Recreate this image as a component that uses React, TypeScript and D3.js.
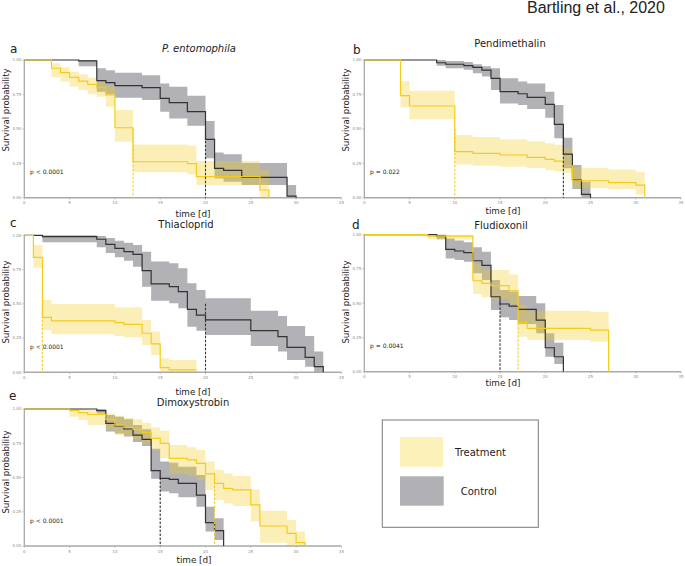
import React from "react";
import * as d3 from "d3";

// ---------- Data ----------
const xTicks = [0, 5, 10, 15, 20, 25, 30, 35];
const yTicks = [0, 0.25, 0.5, 0.75, 1];
const yTickLabels = ["0.00", "0.25", "0.50", "0.75", "1.00"];

const panelLetters = ["a", "b", "c", "d", "e"];
const panelTitles = ["P. entomophila", "Pendimethalin", "Thiacloprid", "Fludioxonil", "Dimoxystrobin"];
const pValues = ["p < 0.0001", "p = 0.022", "p < 0.0001", "p = 0.0041", "p < 0.0001"];
const medianTreatment = [12, 10, 2, 17, 21];
const medianControl = [20, 22, 20, 15, 15];

// a: P. entomophila
const aTrtT = [0, 3, 4, 5, 6, 7, 8, 9, 10, 12, 18, 19, 26, 27];
const aTrtS = [1, 0.94, 0.908, 0.874, 0.847, 0.823, 0.8, 0.746, 0.508, 0.261, 0.247, 0.153, 0.056, 0];
const aTrtU = [1, 0.976, 0.947, 0.915, 0.896, 0.872, 0.847, 0.818, 0.637, 0.387, 0.378, 0.266, 0.201, 0];
const aTrtL = [1, 0.874, 0.843, 0.806, 0.782, 0.751, 0.734, 0.661, 0.407, 0.184, 0.169, 0.092, 0, 0];
const aCtlT = [0, 6, 8, 9, 10, 13, 15, 16, 18, 20, 21, 22, 24, 29, 30];
const aCtlS = [1, 0.993, 0.85, 0.835, 0.814, 0.8, 0.722, 0.69, 0.625, 0.424, 0.213, 0.199, 0.148, 0.012, 0];
const aCtlU = [1, 1, 0.94, 0.925, 0.908, 0.89, 0.83, 0.806, 0.74, 0.557, 0.329, 0.315, 0.252, 0.092, 0];
const aCtlL = [1, 0.955, 0.77, 0.75, 0.726, 0.71, 0.625, 0.576, 0.523, 0.286, 0.14, 0.116, 0.092, 0, 0];

// b: Pendimethalin
const bTrtT = [0, 4, 5, 10, 12, 15, 18, 20, 21, 22, 23, 27, 30, 31];
const bTrtS = [1, 0.741, 0.666, 0.334, 0.322, 0.31, 0.293, 0.278, 0.266, 0.232, 0.123, 0.109, 0.092, 0];
const bTrtU = [1, 0.847, 0.777, 0.455, 0.44, 0.425, 0.41, 0.395, 0.385, 0.355, 0.218, 0.205, 0.189, 0];
const bTrtL = [1, 0.656, 0.569, 0.242, 0.232, 0.225, 0.215, 0.2, 0.19, 0.18, 0.068, 0.063, 0.024, 0];
const bCtlT = [0, 8, 9, 11, 12, 13, 14, 15, 17, 18, 20, 21, 22, 23, 24, 25];
const bCtlS = [1, 0.98, 0.969, 0.959, 0.947, 0.927, 0.867, 0.77, 0.755, 0.729, 0.678, 0.533, 0.317, 0.128, 0.024, 0];
const bCtlU = [1, 1, 0.993, 0.985, 0.97, 0.955, 0.94, 0.867, 0.843, 0.83, 0.77, 0.673, 0.436, 0.237, 0.116, 0];
const bCtlL = [1, 0.959, 0.94, 0.93, 0.903, 0.88, 0.782, 0.685, 0.673, 0.644, 0.581, 0.431, 0.213, 0.063, 0, 0];

// c: Thiacloprid
const cTrtT = [0, 1, 2, 3, 10, 11, 13, 14, 15, 16, 19];
const cTrtS = [1, 0.839, 0.401, 0.375, 0.363, 0.35, 0.285, 0.207, 0.034, 0.017, 0.017];
const cTrtU = [1, 0.93, 0.528, 0.499, 0.474, 0.474, 0.382, 0.297, 0.102, 0.09, 0.09];
const cTrtL = [1, 0.764, 0.309, 0.277, 0.265, 0.255, 0.2, 0.127, 0, 0, 0];
const cCtlT = [0, 2, 8, 9, 10, 11, 12, 13, 14, 16, 17, 18, 19, 20, 25, 28, 29, 31, 32, 33];
const cCtlS = [1, 0.99, 0.971, 0.934, 0.905, 0.881, 0.861, 0.742, 0.645, 0.625, 0.589, 0.46, 0.418, 0.382, 0.304, 0.26, 0.182, 0.109, 0.041, 0];
const cCtlU = [1, 1, 0.995, 0.98, 0.961, 0.946, 0.93, 0.88, 0.808, 0.796, 0.759, 0.65, 0.601, 0.54, 0.45, 0.411, 0.338, 0.265, 0.151, 0];
const cCtlL = [1, 0.949, 0.912, 0.87, 0.839, 0.815, 0.771, 0.625, 0.523, 0.504, 0.467, 0.333, 0.304, 0.273, 0.192, 0.151, 0.09, 0.041, 0, 0];

// d: Fludioxonil
const dTrtT = [0, 7, 12, 13, 14, 16, 17, 18, 25, 27];
const dTrtS = [1, 0.99, 0.664, 0.645, 0.628, 0.591, 0.358, 0.316, 0.304, 0];
const dTrtU = [1, 1, 0.79, 0.747, 0.742, 0.71, 0.487, 0.445, 0.438, 0];
const dTrtL = [1, 0.966, 0.567, 0.543, 0.53, 0.49, 0.255, 0.231, 0.219, 0];
const dCtlT = [0, 8, 9, 10, 11, 12, 13, 14, 15, 16, 17, 19, 20, 21, 22];
const dCtlS = [1, 0.99, 0.893, 0.881, 0.869, 0.81, 0.776, 0.547, 0.494, 0.479, 0.455, 0.377, 0.175, 0.109, 0];
const dCtlU = [1, 1, 0.973, 0.958, 0.945, 0.908, 0.876, 0.669, 0.596, 0.585, 0.552, 0.499, 0.28, 0.212, 0];
const dCtlL = [1, 0.966, 0.827, 0.815, 0.803, 0.718, 0.669, 0.45, 0.397, 0.378, 0.348, 0.28, 0.109, 0.056, 0];

// e: Dimoxystrobin
const eTrtT = [0, 5, 6, 7, 9, 10, 11, 12, 13, 14, 15, 16, 18, 19, 20, 21, 22, 23, 25, 26, 29, 30, 31];
const eTrtS = [1, 0.988, 0.973, 0.96, 0.925, 0.883, 0.866, 0.852, 0.83, 0.786, 0.749, 0.64, 0.628, 0.603, 0.526, 0.457, 0.421, 0.409, 0.3, 0.146, 0.092, 0.024, 0];
const eTrtU = [1, 1, 1, 0.99, 0.968, 0.95, 0.935, 0.925, 0.9, 0.866, 0.842, 0.737, 0.72, 0.7, 0.616, 0.555, 0.53, 0.511, 0.414, 0.258, 0.19, 0.105, 0];
const eTrtL = [1, 0.944, 0.92, 0.883, 0.847, 0.81, 0.8, 0.78, 0.75, 0.7, 0.64, 0.526, 0.511, 0.482, 0.409, 0.336, 0.311, 0.292, 0.178, 0.024, 0, 0, 0];
const eCtlT = [0, 8, 9, 10, 11, 12, 13, 14, 15, 16, 17, 19, 20, 21, 22];
const eCtlS = [1, 0.988, 0.895, 0.876, 0.854, 0.81, 0.779, 0.55, 0.494, 0.487, 0.457, 0.372, 0.17, 0.112, 0];
const eCtlU = [1, 1, 0.956, 0.944, 0.925, 0.883, 0.852, 0.71, 0.616, 0.608, 0.579, 0.518, 0.287, 0.202, 0];
const eCtlL = [1, 0.968, 0.835, 0.822, 0.8, 0.759, 0.73, 0.49, 0.397, 0.385, 0.355, 0.287, 0.105, 0.044, 0];

const legendLabels = ["Treatment", "Control"];

// ---------- Styling / layout ----------
const TRT_LINE = "#F4CC1C";
const TRT_FILL = "rgba(244,206,30,0.32)";
const CTL_LINE = "#333333";
const CTL_FILL = "rgba(70,70,82,0.42)";
const AXIS = "#a9a9a9";
const FONT = "'DejaVu Sans', Verdana, sans-serif";

type Series = { T: number[]; S: number[]; U: number[]; L: number[] };

const panels = [
  { trt: { T: aTrtT, S: aTrtS, U: aTrtU, L: aTrtL }, ctl: { T: aCtlT, S: aCtlS, U: aCtlU, L: aCtlL } },
  { trt: { T: bTrtT, S: bTrtS, U: bTrtU, L: bTrtL }, ctl: { T: bCtlT, S: bCtlS, U: bCtlU, L: bCtlL } },
  { trt: { T: cTrtT, S: cTrtS, U: cTrtU, L: cTrtL }, ctl: { T: cCtlT, S: cCtlS, U: cCtlU, L: cCtlL } },
  { trt: { T: dTrtT, S: dTrtS, U: dTrtU, L: dTrtL }, ctl: { T: dCtlT, S: dCtlS, U: dCtlU, L: dCtlL } },
  { trt: { T: eTrtT, S: eTrtS, U: eTrtU, L: eTrtL }, ctl: { T: eCtlT, S: eCtlS, U: eCtlU, L: eCtlL } },
];

// pixel frames for each panel: x of t=0, x of t=35, y of 1.0, y of 0.0
const frames = [
  { x0: 24.3, x1: 341.4, yTop: 60, yBot: 197.7, letter: [10, 53], title: [199, 52], xlab: [193, 216.5], ylabY: 110 },
  { x0: 364.3, x1: 681, yTop: 60, yBot: 197.7, letter: [353, 54], title: [510, 47], xlab: [503, 214], ylabY: 110 },
  { x0: 24.3, x1: 341.4, yTop: 235.3, yBot: 372.3, letter: [10, 227], title: [186, 228], xlab: [193, 394.5], ylabY: 302 },
  { x0: 364.3, x1: 681, yTop: 234.7, yBot: 371.7, letter: [352, 229], title: [501, 229], xlab: [503, 386], ylabY: 302 },
  { x0: 24.3, x1: 341.4, yTop: 409, yBot: 546, letter: [9, 400], title: [193, 406], xlab: [194, 563], ylabY: 472 },
];

function toPts(s: Series, key: "S" | "U" | "L") {
  return s.T.map((t, i) => [t, s[key][i]] as [number, number]);
}

function Panel({ idx }: { idx: number }) {
  const f = frames[idx];
  const p = panels[idx];
  const x = d3.scaleLinear().domain([0, 35]).range([f.x0, f.x1]);
  const y = d3.scaleLinear().domain([0, 1]).range([f.yBot, f.yTop]);

  const line = d3
    .line<[number, number]>()
    .x((d) => x(d[0]))
    .y((d) => y(d[1]))
    .curve(d3.curveStepAfter);

  const band = (s: Series) => {
    const idxs = s.T.map((_, i) => i);
    return d3
      .area<number>()
      .x((i) => x(s.T[i]))
      .y0((i) => y(s.L[i]))
      .y1((i) => y(s.U[i]))
      .curve(d3.curveStepAfter)(idxs) as string;
  };

  const ylabX = f.x0 - 15.5;

  return (
    <g>
      {/* panel letter and title */}
      <text x={f.letter[0]} y={f.letter[1]} fontSize={12} fontFamily={FONT} fill="#222">
        {panelLetters[idx]}
      </text>
      <text
        x={f.title[0]}
        y={f.title[1]}
        fontSize={10}
        fontFamily={FONT}
        fill="#222"
        textAnchor="middle"
        fontStyle={idx === 0 ? "italic" : "normal"}
      >
        {panelTitles[idx]}
      </text>

      {/* bands */}
      <path d={band(p.ctl)} fill={CTL_FILL} stroke="none" />
      <path d={band(p.trt)} fill={TRT_FILL} stroke="none" />

      {/* axes */}
      <line x1={f.x0} x2={f.x0} y1={f.yTop} y2={f.yBot} stroke={AXIS} strokeWidth={1.3} />
      <line x1={f.x0} x2={f.x1} y1={f.yBot} y2={f.yBot} stroke={AXIS} strokeWidth={1.6} />
      {yTicks.map((v, i) => (
        <g key={"y" + i}>
          <line x1={f.x0 - 2} x2={f.x0} y1={y(v)} y2={y(v)} stroke={AXIS} strokeWidth={0.6} />
          <text
            x={f.x0 - 3}
            y={y(v) + 1.4}
            fontSize={4}
            fontFamily={FONT}
            fill="#8a8a8a"
            textAnchor="end"
          >
            {yTickLabels[i]}
          </text>
        </g>
      ))}
      {xTicks.map((v, i) => (
        <g key={"x" + i}>
          <line x1={x(v)} x2={x(v)} y1={f.yBot} y2={f.yBot + 2} stroke={AXIS} strokeWidth={0.6} />
          <text
            x={x(v)}
            y={f.yBot + 6.5}
            fontSize={4}
            fontFamily={FONT}
            fill="#8a8a8a"
            textAnchor="middle"
          >
            {v}
          </text>
        </g>
      ))}

      {/* curves */}
      <path d={line(toPts(p.ctl, "S")) as string} fill="none" stroke={CTL_LINE} strokeWidth={1.2} />
      <path d={line(toPts(p.trt, "S")) as string} fill="none" stroke={TRT_LINE} strokeWidth={1.2} />

      {/* median lines */}
      <line
        x1={x(medianControl[idx])}
        x2={x(medianControl[idx])}
        y1={y(0.5)}
        y2={y(0)}
        stroke={CTL_LINE}
        strokeWidth={1.1}
        strokeDasharray="2.5,1.5"
      />
      <line
        x1={x(medianTreatment[idx])}
        x2={x(medianTreatment[idx])}
        y1={y(0.5)}
        y2={y(0)}
        stroke={TRT_LINE}
        strokeWidth={1.1}
        strokeDasharray="2.5,1.5"
      />

      {/* p value */}
      <text x={f.x0 + 5.7} y={y(0.25) + 27 * (f.yBot - f.yTop) / 411 + 2} fontSize={6} fontFamily={FONT} fill="#222">
        {pValues[idx]}
      </text>

      {/* axis labels */}
      <text
        transform={`translate(${ylabX},${f.ylabY}) rotate(-90)`}
        fontSize={8.6}
        fontFamily={FONT}
        fill="#222"
        textAnchor="middle"
      >
        Survival probability
      </text>
      <text x={f.xlab[0]} y={f.xlab[1]} fontSize={8.8} fontFamily={FONT} fill="#222" textAnchor="middle">
        time [d]
      </text>
    </g>
  );
}

export default function App() {
  return (
    <svg
      width={685}
      height={566}
      style={{ position: "absolute", left: 0, top: 0, background: "#fff" }}
    >
      <rect x={0} y={0} width={685} height={566} fill="#fff" />
      <text x={527} y={13} fontSize={16} fontFamily="'Liberation Sans', Arial, sans-serif" fill="#222">
        Bartling et al., 2020
      </text>
      {panels.map((_, i) => (
        <Panel key={i} idx={i} />
      ))}
      {/* legend */}
      <rect x={382.3} y={420} width={156} height={107.3} fill="#fff" stroke="#7a7a7a" strokeWidth={1} />
      <rect x={400} y={437} width={43.3} height={29.7} fill="#FBF1B9" />
      <rect x={400} y={476.3} width={43.7} height={29.4} fill="#B1B1B5" />
      <text x={455} y={455.5} fontSize={10} fontFamily={FONT} fill="#222">
        {legendLabels[0]}
      </text>
      <text x={460.7} y={494.5} fontSize={10} fontFamily={FONT} fill="#222">
        {legendLabels[1]}
      </text>
    </svg>
  );
}
